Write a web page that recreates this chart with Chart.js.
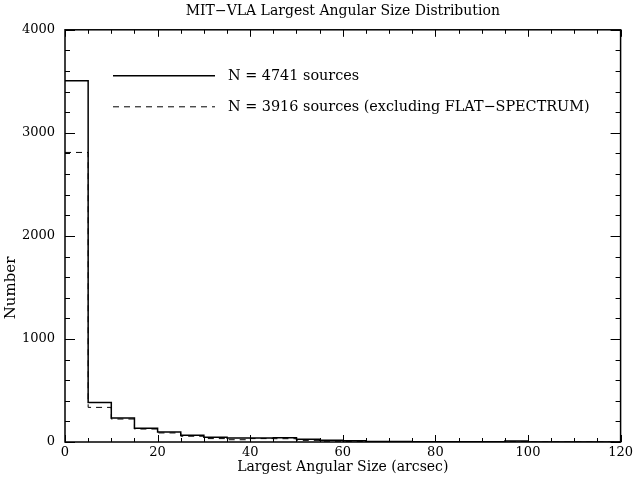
<!DOCTYPE html>
<html>
<head>
<meta charset="utf-8">
<script src="https://cdn.jsdelivr.net/npm/chart.js@4/dist/chart.umd.min.js"></script>
<style>
  html, body { margin: 0; background: #fff; }
  #wrap { width: 636px; height: 483px; }
</style>
</head>
<body>
<div id="wrap"><canvas id="c"></canvas></div>
<script>
// bin left edges (arcsec), last entry closes the final bin
const binEdges = [0, 5, 10, 15, 20, 25, 30, 35, 40, 45, 50, 55, 60, 65, 70, 75, 80, 85, 90, 95, 100, 105, 110, 115, 120]

// counts per 5" bin
const allSources     = [3505, 384, 233, 134, 98, 66, 45, 40, 40, 42, 26, 16, 13, 6, 4, 3, 2, 2, 3, 10, 1, 0, 0, 0]
const noFlatSpectrum = [2810, 336, 223, 126, 88, 56, 33, 22, 33, 32, 16, 8, 6, 3, 2, 2, 1, 1, 1, 5, 0, 0, 0, 0]

const xTickValues = [0, 20, 40, 60, 80, 100, 120]
const yTickValues = [0, 1000, 2000, 3000, 4000]

const labelAll    = 'N = 4741 sources'
const labelNoFlat = 'N = 3916 sources (excluding FLAT\u2212SPECTRUM)'

const steps = vals => binEdges.map((x, i) => ({ x, y: vals[Math.min(i, vals.length - 1)] }))

Chart.defaults.font.family = "'DejaVu Serif', serif"
Chart.defaults.color = '#000'

// box, inward ticks on all sides, legend and y title
const frame = {
  id: 'frame',
  afterDatasetsDraw(chart) {
    const { ctx, chartArea: a, scales: { x, y } } = chart
    ctx.save()
    ctx.strokeStyle = '#000'
    ctx.lineWidth = 1.5
    ctx.strokeRect(a.left, a.top, a.right - a.left, a.bottom - a.top)

    ctx.lineWidth = 1
    ctx.beginPath()
    for (let v = x.min; v <= x.max; v += 5) {
      const px = Math.round(x.getPixelForValue(v)) + 0.5
      const len = v % 20 === 0 ? 7 : 4
      ctx.moveTo(px, a.bottom); ctx.lineTo(px, a.bottom - len)
      ctx.moveTo(px, a.top);    ctx.lineTo(px, a.top + len)
    }
    for (let v = y.min; v <= y.max; v += 200) {
      const py = Math.round(y.getPixelForValue(v)) + 0.5
      const len = v % 1000 === 0 ? 10 : 5
      ctx.moveTo(a.left, py);  ctx.lineTo(a.left + len, py)
      ctx.moveTo(a.right, py); ctx.lineTo(a.right - len, py)
    }
    ctx.stroke()

    // legend
    const sets = chart.data.datasets
    ctx.font = "14.4px 'DejaVu Serif'"
    ctx.textBaseline = 'middle'
    ctx.textAlign = 'left'
    sets.forEach((ds, i) => {
      const ly = a.top + 46 + i * 31
      ctx.beginPath()
      ctx.lineWidth = ds.borderWidth
      ctx.setLineDash(ds.borderDash || [])
      ctx.moveTo(a.left + 48, ly); ctx.lineTo(a.left + 150, ly)
      ctx.stroke()
      ctx.setLineDash([])
      ctx.fillStyle = '#000'
      ctx.fillText(ds.label, a.left + 163, ly)
    })

    // y title
    ctx.translate(11, 288)
    ctx.rotate(-Math.PI / 2)
    ctx.textAlign = 'center'
    ctx.font = "15px 'DejaVu Serif'"
    ctx.fillText('Number', 0, 0)
    ctx.restore()
  }
}

new Chart(document.getElementById('c'), {
  type: 'line',
  data: {
    datasets: [
      {
        label:       labelAll,
        data:        steps(allSources),
        borderColor: '#000',
        borderWidth: 1.5,
        stepped:     true,
        pointRadius: 0,
        fill:        false,
      },
      {
        label:       labelNoFlat,
        data:        steps(noFlatSpectrum),
        borderColor: '#000',
        borderWidth: 1,
        borderDash:  [6, 5],
        stepped:     true,
        pointRadius: 0,
        fill:        false,
      },
    ],
  },
  options: {
    responsive:          true,
    maintainAspectRatio: false,
    animation:           false,
    layout: { padding: { top: 0, right: 15, left: 0, bottom: 0 } },
    plugins: {
      legend:  { display: false },
      tooltip: { enabled: false },
      title: {
        display:  true,
        fullSize: false,
        text:     'MIT\u2212VLA Largest Angular Size Distribution',
        color:    '#000',
        font:     { size: 14, weight: 'normal' },
        padding:  { top: 3, bottom: 10 },
      },
    },
    scales: {
      x: {
        type: 'linear', min: 0, max: 120,
        afterBuildTicks: s => { s.ticks = xTickValues.map(value => ({ value })) },
        afterFit: s => { s.height = 41 },
        grid:   { display: false, drawTicks: false },
        border: { display: false },
        ticks:  { padding: 3, font: { size: 13 }, maxRotation: 0, callback: v => String(v) },
        title:  { display: true, text: 'Largest Angular Size (arcsec)', font: { size: 14 }, padding: { top: 0, bottom: 7 } },
      },
      y: {
        type: 'linear', min: 0, max: 4000,
        afterBuildTicks: s => { s.ticks = yTickValues.map(value => ({ value })) },
        afterFit: s => { s.width = 65 },
        grid:   { display: false, drawTicks: false },
        border: { display: false },
        ticks:  { padding: 10, font: { size: 13 }, callback: v => String(v) },
      },
    },
  },
  plugins: [frame],
})
</script>
</body>
</html>
